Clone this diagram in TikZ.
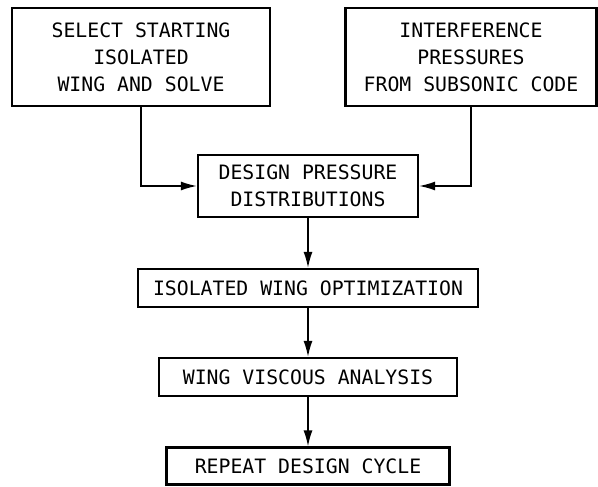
\documentclass[tikz,border=0pt]{standalone}
\usepackage{fontspec}
\newfontfamily\boxfont{DejaVu Sans Mono}
\usetikzlibrary{arrows.meta}
\begin{document}
\begin{tikzpicture}[x=1pt,y=-1pt,
  box/.style={draw, line width=2.2pt, align=center, inner sep=0pt,
    font=\boxfont\fontsize{19.8}{27}\selectfont},
  arr/.style={line width=1.6pt, -{Latex[length=16pt,width=9pt]}}]
\useasboundingbox (0,0) rectangle (598,487);
\node[box, minimum width=258pt, minimum height=98pt] (b1) at (141,57)
  {SELECT STARTING\\ISOLATED\\WING AND SOLVE};
\node[box, minimum width=251pt, minimum height=98pt] (b2) at (471,57)
  {INTERFERENCE\\PRESSURES\\FROM SUBSONIC CODE};
\node[box, minimum width=220pt, minimum height=62pt] (b3) at (308,186)
  {DESIGN PRESSURE\\DISTRIBUTIONS};
\node[box, minimum width=340pt, minimum height=38pt] (b4) at (308,288)
  {ISOLATED WING OPTIMIZATION};
\node[box, minimum width=298pt, minimum height=38pt] (b5) at (308,377)
  {WING VISCOUS ANALYSIS};
\node[box, minimum width=283pt, minimum height=37pt] (b6) at (308,466)
  {REPEAT DESIGN CYCLE};
\draw[arr] (b1.south) |- (b3.west);
\draw[arr] (b2.south) |- (b3.east);
\draw[arr] (b3.south) -- (b4.north);
\draw[arr] (b4.south) -- (b5.north);
\draw[arr] (b5.south) -- (b6.north);
\end{tikzpicture}
\end{document}
